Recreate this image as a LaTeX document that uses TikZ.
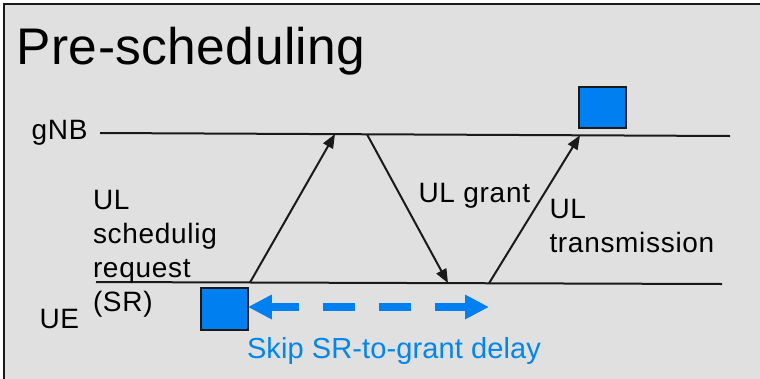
\documentclass[tikz,border=0pt]{standalone}
\usepackage{fontspec}
\setmainfont{Liberation Sans}
\newfontfamily\lblfont[LetterSpace=2.5]{Liberation Sans}
\newfontfamily\titlefont[LetterSpace=0.8]{Liberation Sans}
\newfontfamily\skipfont[LetterSpace=0.4]{Liberation Sans}
\usetikzlibrary{arrows.meta}
\definecolor{bgg}{RGB}{224,224,224}
\definecolor{ink}{RGB}{26,26,26}
\definecolor{sqblue}{RGB}{0,128,240}
\definecolor{txtblue}{RGB}{0,134,240}
\begin{document}
\begin{tikzpicture}[x=1pt,y=-1pt,
  lbl/.style={inner sep=0pt, outer sep=0pt, font=\lblfont\fontsize{28}{34}\selectfont, text=black},
  timeline/.style={draw=ink, line width=2pt},
  msg/.style={draw=ink, line width=2pt, -{Triangle[length=14pt,width=11pt]}},
  pkt/.style={draw=ink, line width=2pt, fill=sqblue, minimum width=47pt, minimum height=41.5pt, inner sep=0pt, outer sep=0pt},
  skiparrow/.style={draw=sqblue, line width=7.5pt, dash pattern=on 32pt off 24pt, dash phase=3pt,
    {Triangle[length=24pt,width=23pt]}-{Triangle[length=24pt,width=23pt]}}
]
\useasboundingbox (0,0) rectangle (760,378);
\fill[white] (0,0) rectangle (760,378);
\begin{scope}
  \clip (0,0) rectangle (760,378);
  \draw[ink, line width=2pt, fill=bgg] (3.5,3.5) rectangle (790,400);
\end{scope}

% title
\node[lbl, font=\titlefont\fontsize{51.5}{60}\selectfont, anchor=base west] (title) at (16.7,64) {Pre-scheduling};

% timelines
\coordinate (gL) at (100,133);
\coordinate (gR) at (730,136);
\coordinate (uL) at (96,282);
\coordinate (uR) at (722,284);
\draw[timeline] (gL) -- (gR);
\draw[timeline] (uL) -- (uR);

\node[lbl, anchor=base west] (gnb) at (31.7,139.5) {gNB};
\node[lbl, anchor=base west] (ue) at (39.5,328) {UE};

% message points
\coordinate (u1) at (250,282.5);
\coordinate (g1) at (335,134);
\coordinate (g2) at (367,134.3);
\coordinate (u2) at (448,283.1);
\coordinate (u3) at (489,283.3);
\coordinate (g3) at (580,135.3);

\draw[msg] (u1) -- (g1);
\draw[msg] (g2) -- (u2);
\draw[msg] (u3) -- (g3);

% labels
\node[lbl, anchor=north west, align=left] (srlbl) at (93,190) {UL\\schedulig\\request\\(SR)};
\node[lbl, anchor=base west] (grantlbl) at (418.5,202.3) {UL grant};
\node[lbl, anchor=north west, align=left] (txlbl) at (549.5,199.5) {UL\\transmission};

% packets
\node[pkt] (sqUE) at (224.35,309) {};
\node[pkt] (sqG) at (602.2,107.5) {};

% skipped delay
\coordinate (dR) at (489,307);
\draw[skiparrow] (sqUE.east |- dR) -- (dR);
\node[lbl, text=txtblue, font=\skipfont\fontsize{29}{34}\selectfont, anchor=base west] (skiplbl) at (247,358.3) {Skip SR-to-grant delay};
\end{tikzpicture}
\end{document}
